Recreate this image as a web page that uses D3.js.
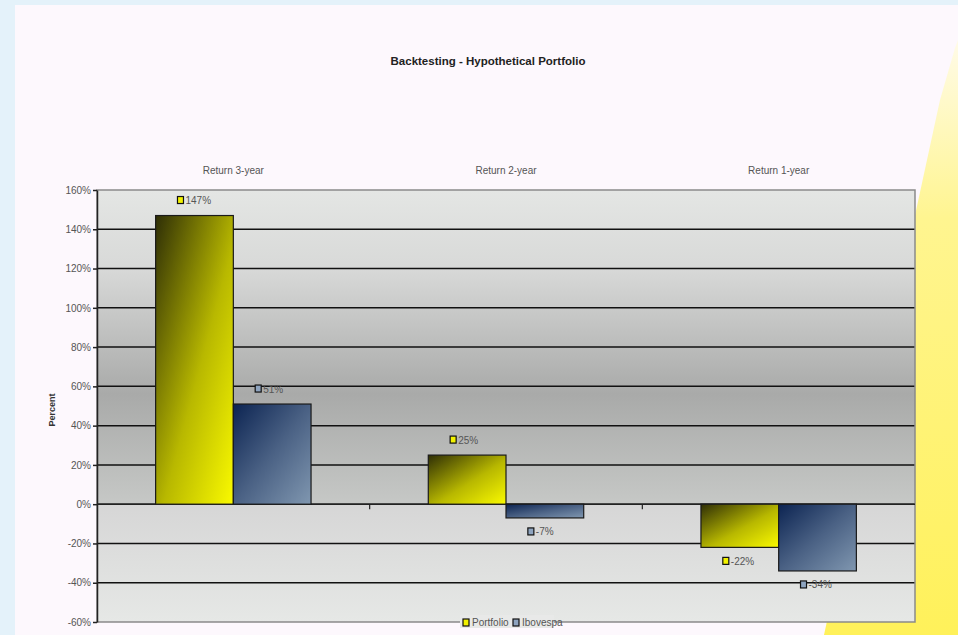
<!DOCTYPE html>
<html><head><meta charset="utf-8">
<script src="https://cdn.jsdelivr.net/npm/d3@7"></script>
<style>html,body{margin:0;padding:0;background:#e4f2fa;}svg{display:block;}</style>
</head><body>
<script>
const categories = ["Return 3-year", "Return 2-year", "Return 1-year"];
const seriesNames = ["Portfolio", "Ibovespa"];
const portfolio = [147, 25, -22];
const ibovespa = [51, -7, -34];
const yTicks = [-60, -40, -20, 0, 20, 40, 60, 80, 100, 120, 140, 160];
const title = "Backtesting - Hypothetical Portfolio";
const yLabel = "Percent";

const W = 958, H = 635;
const font = "'Liberation Sans Narrow','Arial Narrow','Liberation Sans',Arial,sans-serif";
const svg = d3.select("body").append("svg").attr("width", W).attr("height", H);
const defs = svg.append("defs");

function lin(id, x1, y1, x2, y2, stops) {
  const g = defs.append("linearGradient").attr("id", id)
    .attr("x1", x1).attr("y1", y1).attr("x2", x2).attr("y2", y2);
  stops.forEach(s => g.append("stop").attr("offset", s[0]).attr("stop-color", s[1]));
}
lin("gPort", 0, 0, 1, 1, [[0, "#2e2e06"], [0.55, "#b8b800"], [1, "#fafa00"]]);
lin("gIbov", 0, 0, 1, 1, [[0, "#0c2452"], [0.5, "#4a6184"], [1, "#8097b0"]]);
lin("gUpper", 0, 0, 0, 1, [[0, "#e4e6e4"], [0.25, "#d8d9d8"], [0.65, "#a9aaa9"], [1, "#c6c8c6"]]);
lin("gLower", 0, 0, 0, 1, [[0, "#d6d6d6"], [1, "#e6e8e6"]]);
lin("gYellow", 0, 0, 0, 1, [[0, "#fffbe8"], [0.3, "#fff590"], [1, "#fff15a"]]);

// page backgrounds
svg.append("rect").attr("x", 0).attr("y", 0).attr("width", W).attr("height", H).attr("fill", "#e4f2fa");
svg.append("rect").attr("x", 15).attr("y", 5).attr("width", W - 15).attr("height", H - 5).attr("fill", "#fdf8fd");
svg.append("path").attr("d", "M958,40 L955,48 L940,100 L824,635 L958,635 Z").attr("fill", "url(#gYellow)");

const m = {left: 97, right: 915, top: 190, bottom: 622};
const x0 = d3.scaleBand().domain(categories).range([m.left, m.right]).paddingInner(0.43).paddingOuter(0.215);
const x1 = d3.scaleBand().domain(seriesNames).range([0, x0.bandwidth()]);
const y = d3.scaleLinear().domain([-60, 160]).range([m.bottom, m.top]);

// plot area backgrounds
svg.append("rect").attr("x", m.left).attr("y", m.top).attr("width", m.right - m.left).attr("height", y(0) - m.top).attr("fill", "url(#gUpper)");
svg.append("rect").attr("x", m.left).attr("y", y(0)).attr("width", m.right - m.left).attr("height", m.bottom - y(0)).attr("fill", "url(#gLower)");

// gridlines
svg.append("g").selectAll("line").data(yTicks.filter(t => t !== 160 && t !== -60)).join("line")
  .attr("x1", m.left).attr("x2", m.right).attr("y1", d => y(d)).attr("y2", d => y(d))
  .attr("stroke", "#111").attr("stroke-width", 1.5);

// plot border
svg.append("rect").attr("x", m.left).attr("y", m.top).attr("width", m.right - m.left).attr("height", m.bottom - m.top)
  .attr("fill", "none").attr("stroke", "#8a8a8a").attr("stroke-width", 1.5);

// y axis
const yAxis = svg.append("g").attr("transform", `translate(${m.left},0)`)
  .call(d3.axisLeft(y).tickValues(yTicks).tickFormat(d => d + "%").tickSize(4).tickSizeOuter(0));
yAxis.select(".domain").attr("stroke", "#222").attr("stroke-width", 1.5);
yAxis.selectAll(".tick line").attr("stroke", "#222").attr("stroke-width", 1.5);
yAxis.selectAll(".tick text").attr("font-family", font).attr("font-size", 10).attr("fill", "#555").attr("x", -6);

// zero axis with category separators
svg.append("line").attr("x1", m.left).attr("x2", m.right).attr("y1", y(0)).attr("y2", y(0)).attr("stroke", "#222").attr("stroke-width", 1.5);
const seps = categories.slice(1).map(c => x0(c) - x0.step() * x0.paddingInner() / 2);
svg.append("g").selectAll("line").data(seps).join("line")
  .attr("x1", d => d).attr("x2", d => d).attr("y1", y(0)).attr("y2", y(0) + 5)
  .attr("stroke", "#222").attr("stroke-width", 1.2);

// category labels on top
svg.append("g").selectAll("text").data(categories).join("text")
  .attr("x", d => x0(d) + x0.bandwidth() / 2).attr("y", 174).attr("text-anchor", "middle")
  .attr("font-family", font).attr("font-size", 10).attr("fill", "#555").text(d => d);

// bars
const rows = categories.map((c, i) => ({cat: c, vals: [{s: "Portfolio", v: portfolio[i]}, {s: "Ibovespa", v: ibovespa[i]}]}));
const fills = {Portfolio: "url(#gPort)", Ibovespa: "url(#gIbov)"};
const markFill = {Portfolio: "#f2f200", Ibovespa: "#8ea4bf"};
const groups = svg.append("g").selectAll("g").data(rows).join("g").attr("transform", d => `translate(${x0(d.cat)},0)`);
groups.selectAll("rect").data(d => d.vals).join("rect")
  .attr("x", d => x1(d.s)).attr("width", x1.bandwidth())
  .attr("y", d => y(Math.max(0, d.v))).attr("height", d => Math.abs(y(d.v) - y(0)))
  .attr("fill", d => fills[d.s]).attr("stroke", "#1a1a1a").attr("stroke-width", 1.2);

// data labels
const lab = groups.selectAll("g.lab").data(d => d.vals).join("g").attr("class", "lab")
  .attr("transform", d => `translate(${x1(d.s) + x1.bandwidth() / 2},${d.v >= 0 ? y(d.v) - 15 : y(d.v) + 14})`);
lab.append("rect").attr("x", -17).attr("y", -4).attr("width", 6).attr("height", 7)
  .attr("fill", d => markFill[d.s]).attr("stroke", "#111").attr("stroke-width", 1.2);
lab.append("text").attr("x", -9).attr("y", 3.5).attr("font-family", font).attr("font-size", 10).attr("fill", "#555")
  .text(d => d.v + "%");

// title
svg.append("text").attr("x", 488).attr("y", 65).attr("text-anchor", "middle").attr("font-family", font)
  .attr("font-size", 11.5).attr("font-weight", "bold").attr("fill", "#222").text(title);

// y label
svg.append("text").attr("transform", `translate(55,410) rotate(-90)`).attr("text-anchor", "middle")
  .attr("font-family", font).attr("font-size", 9).attr("font-weight", "bold").attr("fill", "#333").text(yLabel);

// legend
const leg = svg.append("g").attr("transform", `translate(460,${m.bottom})`);
leg.append("rect").attr("x", 0).attr("y", -7).attr("width", 94).attr("height", 13).attr("fill", "#e8e9e8");
const items = [{s: "Portfolio", x: 3}, {s: "Ibovespa", x: 53}];
items.forEach(it => {
  leg.append("rect").attr("x", it.x).attr("y", -3).attr("width", 6).attr("height", 7)
    .attr("fill", markFill[it.s]).attr("stroke", "#111").attr("stroke-width", 1.2);
  leg.append("text").attr("x", it.x + 9).attr("y", 4).attr("font-family", font).attr("font-size", 10)
    .attr("fill", "#555").text(it.s);
});
</script>
</body></html>
